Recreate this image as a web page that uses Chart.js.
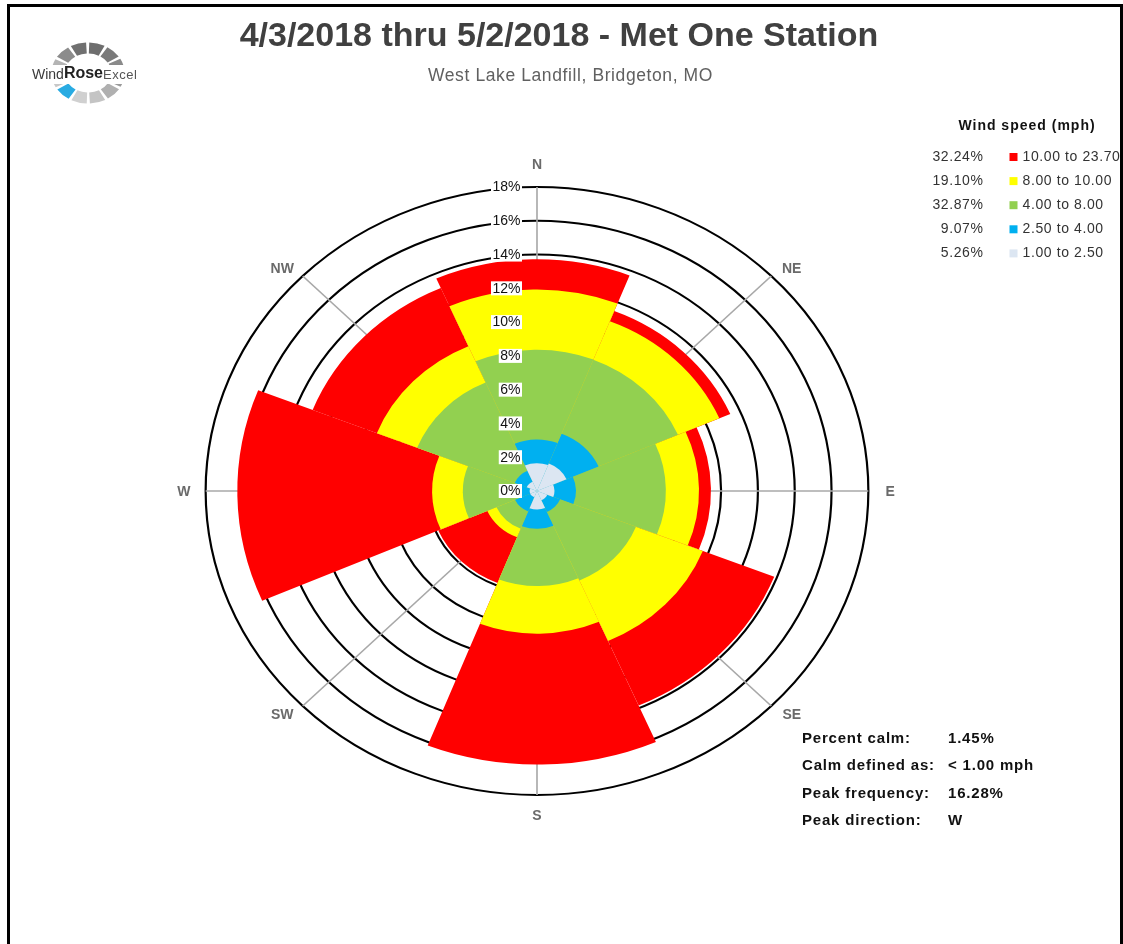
<!DOCTYPE html>
<html><head><meta charset="utf-8">
<script src="https://cdn.jsdelivr.net/npm/chart.js@4.4.1/dist/chart.umd.min.js"></script>
<style>html,body{margin:0;padding:0;background:#fff;overflow:hidden}canvas{display:block}</style>
</head><body>
<canvas id="c" width="1123" height="944"></canvas>
<script>
// ---- data ----
const directions = ['N', 'NE', 'E', 'SE', 'S', 'SW', 'W', 'NW'];
const speedBins = ['1.00 to 2.50', '2.50 to 4.00', '4.00 to 8.00', '8.00 to 10.00', '10.00 to 23.70'];
const binColors = ['#dce6f2', '#00b0f0', '#92d050', '#ffff00', '#ff0000'];
const binShares = ['5.26%', '9.07%', '32.87%', '19.10%', '32.24%'];
// frequency (%) of each speed bin per direction
const speed1to2_5   = [1.65, 1.75, 0.95, 0.60, 1.10, 0.40, 0.40, 0.60];
const speed2_5to4   = [1.40, 1.90, 1.17, 0.75, 1.14, 0.90, 0.55, 0.70];
const speed4to8     = [5.32, 4.70, 4.88, 4.43, 3.39, 1.10, 3.08, 5.70];
const speed8to10    = [3.56, 2.45, 1.80, 3.90, 2.82, 0.55, 1.67, 2.35];
const speed10to23_7 = [1.79, 0.65, 0.65, 4.17, 7.75, 2.90, 10.58, 3.75];
const tickValues = [0, 2, 4, 6, 8, 10, 12, 14, 16, 18];
const titleText = '4/3/2018 thru 5/2/2018 - Met One Station';
const subtitleText = 'West Lake Landfill, Bridgeton, MO';
const legendTitle = 'Wind speed (mph)';
const statLabels = ['Percent calm:', 'Calm defined as:', 'Peak frequency:', 'Peak direction:'];
const statValues = ['1.45%', '< 1.00 mph', '16.28%', 'W'];

// ---- build stacked (cumulative) rings for the polar area chart ----
const bins = [speed1to2_5, speed2_5to4, speed4to8, speed8to10, speed10to23_7];
const cumulative = [];
bins.forEach((b, k) => {
  cumulative.push(b.map((v, i) => +(v + (k ? cumulative[k - 1][i] : 0)).toFixed(2)));
});

const FONT = "'Liberation Sans', Arial, sans-serif";
const STRETCH = 1.09;   // the reference rose is wider than tall
const SECTOR_START = -23.5;

function txt(ctx, s, x, y, font, color, align, spacing) {
  ctx.save();
  ctx.font = font; ctx.fillStyle = color;
  ctx.textAlign = align || 'left'; ctx.textBaseline = 'middle';
  if (spacing) ctx.letterSpacing = spacing + 'px';
  ctx.fillText(s, x, y);
  ctx.restore();
}

function drawLogo(ctx) {
  const cx = 88, cy = 73;
  ctx.save();
  ctx.translate(cx, cy);
  ctx.scale(1.2, 1);
  const shades = ['#6e6e6e', '#7a7a7a', '#8a8a8a', '#9a9a9a', '#b0b0b0', '#c4c4c4', '#d0d0d0', '#29abe2', '#c8c8c8', '#b4b4b4', '#8c8c8c', '#707070'];
  for (let i = 0; i < 12; i++) {
    const a0 = (-90 + i * 30 + 2) * Math.PI / 180;
    const a1 = (-90 + i * 30 + 27) * Math.PI / 180;
    ctx.beginPath();
    ctx.arc(0, 0, 25, a0, a1);
    ctx.strokeStyle = shades[i];
    ctx.lineWidth = 11;
    ctx.stroke();
  }
  ctx.restore();
  ctx.fillStyle = '#fff';
  ctx.fillRect(30, 65, 116, 19);
  ctx.save();
  ctx.textBaseline = 'middle';
  let x = 32;
  ctx.font = '14px ' + FONT; ctx.fillStyle = '#3a3a3a'; ctx.fillText('Wind', x, 75); x += ctx.measureText('Wind').width;
  ctx.font = 'bold 16px ' + FONT; ctx.fillStyle = '#222'; ctx.fillText('Rose', x, 74); x += ctx.measureText('Rose').width;
  ctx.font = '13px ' + FONT; ctx.fillStyle = '#555'; ctx.letterSpacing = '0.5px'; ctx.fillText('Excel', x, 75.5);
  ctx.restore();
}

const rosePlugin = {
  id: 'rose',
  beforeDraw(chart) {
    const ctx = chart.ctx, r = chart.scales.r;
    ctx.save();
    ctx.translate(r.xCenter, 0);
    ctx.scale(STRETCH, 1);
    ctx.translate(-r.xCenter, 0);
  },
  beforeDatasetsDraw(chart) {
    const ctx = chart.ctx, r = chart.scales.r;
    const R = r.getDistanceFromCenterForValue(r.max);
    ctx.save();
    ctx.strokeStyle = '#a8a8a8';
    ctx.lineWidth = 1.5;
    for (let i = 0; i < 8; i++) {
      const a = i * Math.PI / 4;
      ctx.beginPath();
      ctx.moveTo(r.xCenter, r.yCenter);
      ctx.lineTo(r.xCenter + R * Math.sin(a), r.yCenter - R * Math.cos(a));
      ctx.stroke();
    }
    ctx.restore();
  },
  afterDatasetsDraw(chart) {
    chart.ctx.restore();
  },
  afterDraw(chart) {
    const ctx = chart.ctx, r = chart.scales.r;
    // radial tick labels with white backdrop
    ctx.save();
    ctx.font = '14px ' + FONT;
    tickValues.forEach(v => {
      const y = r.yCenter - r.getDistanceFromCenterForValue(v);
      const s = v + '%';
      const w = ctx.measureText(s).width;
      const xr = r.xCenter - 16.5;
      ctx.fillStyle = '#fff';
      ctx.fillRect(xr - w - 1.5, y - 7, w + 3, 14);
      ctx.fillStyle = '#111';
      ctx.textAlign = 'right'; ctx.textBaseline = 'middle';
      ctx.fillText(s, xr, y + 0.5);
    });
    ctx.restore();
    // compass labels
    const RL = r.getDistanceFromCenterForValue(r.max) + 20;
    directions.forEach((d, i) => {
      const a = i * Math.PI / 4;
      const diag = i % 2 === 1;
      const fx = diag ? 1.02 : 1, fy = diag ? 0.974 : (i === 0 ? 1.01 : 1);
      txt(ctx, d, r.xCenter + STRETCH * RL * Math.sin(a) * fx, r.yCenter - RL * Math.cos(a) * fy + 1, 'bold 14px ' + FONT, '#6a6a6a', 'center');
    });
    // titles
    txt(ctx, titleText, 559, 37, 'bold 34px ' + FONT, '#404040', 'center');
    txt(ctx, subtitleText, 570.5, 76, '17.5px ' + FONT, '#606060', 'center', 0.6);
    // legend
    txt(ctx, legendTitle, 1027, 126, 'bold 14px ' + FONT, '#111', 'center', 1);
    for (let k = bins.length - 1, row = 0; k >= 0; k--, row++) {
      const y = 157 + row * 24.1;
      txt(ctx, binShares[k], 983.5, y, '14px ' + FONT, '#333', 'right', 0.6);
      ctx.fillStyle = binColors[k];
      ctx.fillRect(1009.5, y - 4, 8, 8);
      txt(ctx, speedBins[k], 1022.5, y, '14px ' + FONT, '#333', 'left', 0.6);
    }
    // statistics
    statLabels.forEach((s, i) => {
      const y = 739 + i * 27.3;
      txt(ctx, s, 802, y, 'bold 15px ' + FONT, '#111', 'left', 0.8);
      txt(ctx, statValues[i], 948, y, 'bold 15px ' + FONT, '#111', 'left', 0.8);
    });
    drawLogo(ctx);
    // frame
    ctx.save();
    ctx.strokeStyle = '#000'; ctx.lineWidth = 3;
    ctx.beginPath();
    ctx.moveTo(8.5, 960); ctx.lineTo(8.5, 5.5); ctx.lineTo(1121.5, 5.5); ctx.lineTo(1121.5, 960);
    ctx.stroke();
    ctx.restore();
  }
};

new Chart(document.getElementById('c'), {
  type: 'polarArea',
  data: {
    labels: directions,
    datasets: cumulative.map((vals, k) => ({
      label: speedBins[k],
      data: vals,
      backgroundColor: binColors[k],
      borderWidth: 0,
      clip: false
    }))
  },
  options: {
    responsive: false,
    animation: false,
    devicePixelRatio: 1,
    layout: { padding: { left: 233, right: 282, top: 187, bottom: 149 } },
    plugins: { legend: { display: false }, tooltip: { enabled: false }, title: { display: false } },
    scales: {
      r: {
        min: 0, max: 18,
        startAngle: SECTOR_START,
        ticks: { display: false, stepSize: 2 },
        grid: { color: '#000', lineWidth: 2, circular: true },
        angleLines: { display: false },
        pointLabels: { display: false }
      }
    }
  },
  plugins: [rosePlugin]
});
</script>
</body></html>
